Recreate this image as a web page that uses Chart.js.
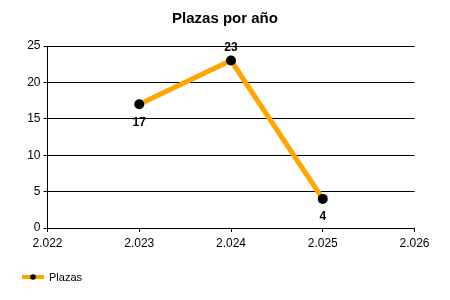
<!DOCTYPE html>
<html>
<head>
<meta charset="utf-8">
<script src="https://cdn.jsdelivr.net/npm/chart.js@4"></script>
<style>
  html, body { margin: 0; padding: 0; background: #fff; }
  #chart { display: block; }
</style>
</head>
<body>
<canvas id="chart" width="450" height="300"></canvas>
<script>
const years = [2023, 2024, 2025];
const plazas = [17, 23, 4];
const labelSide = ['below', 'above', 'below'];
const xTicks = [2022, 2023, 2024, 2025, 2026];
const xTickLabels = ['2.022', '2.023', '2.024', '2.025', '2.026'];
const yTicks = [0, 5, 10, 15, 20, 25];

const FONT = '"Liberation Sans", Arial, sans-serif';

// data labels, title and legend drawn by hand
const extras = {
    id: 'extras',
    afterDatasetsDraw(chart) {
        const ctx = chart.ctx;
        const meta = chart.getDatasetMeta(0);
        ctx.save();
        ctx.font = 'bold 12px ' + FONT;
        ctx.fillStyle = '#000';
        ctx.textAlign = 'center';
        ctx.textBaseline = 'middle';
        meta.data.forEach(function (pt, i) {
            const dy = labelSide[i] === 'above' ? -13 : 18;
            ctx.fillText(String(plazas[i]), pt.x, pt.y + dy);
        });

        // title
        ctx.font = 'bold 15px ' + FONT;
        ctx.fillText('Plazas por año', 225, 19);

        // legend
        ctx.strokeStyle = '#FFA500';
        ctx.lineWidth = 4;
        ctx.beginPath();
        ctx.moveTo(22, 277);
        ctx.lineTo(44, 277);
        ctx.stroke();
        ctx.beginPath();
        ctx.arc(33, 277, 2.8, 0, Math.PI * 2);
        ctx.fill();
        ctx.font = '11px ' + FONT;
        ctx.textAlign = 'left';
        ctx.fillText('Plazas', 49, 278);
        ctx.restore();
    }
};

new Chart(document.getElementById('chart'), {
    type: 'line',
    data: {
        datasets: [{
            label: 'Plazas',
            data: years.map((y, i) => ({ x: y, y: plazas[i] })),
            borderColor: '#FFA500',
            borderWidth: 5,
            pointRadius: 5,
            pointBackgroundColor: '#000',
            pointBorderColor: '#000',
            pointBorderWidth: 0,
            tension: 0
        }]
    },
    options: {
        responsive: false,
        animation: false,
        layout: { padding: { top: 46, right: 35.5, bottom: 0, left: 0 } },
        plugins: {
            legend: { display: false },
            title: { display: false },
            tooltip: { enabled: false }
        },
        scales: {
            x: {
                type: 'linear',
                min: 2022,
                max: 2026,
                afterBuildTicks(scale) { scale.ticks = xTicks.map(v => ({ value: v })); },
                afterFit(scale) { scale.height = 72; },
                ticks: {
                    color: '#000',
                    font: { family: FONT, size: 12 },
                    padding: 4,
                    maxRotation: 0,
                    callback: function (v) { return xTickLabels[xTicks.indexOf(v)]; }
                },
                grid: { drawOnChartArea: false, drawTicks: true, tickLength: 4, color: '#000', lineWidth: 1 },
                border: { color: '#000', width: 1 }
            },
            y: {
                min: 0,
                max: 25,
                afterBuildTicks(scale) { scale.ticks = yTicks.map(v => ({ value: v })); },
                afterFit(scale) { scale.width = 47.5; },
                ticks: {
                    color: '#000',
                    font: { family: FONT, size: 12 },
                    padding: 3
                },
                grid: { color: '#000', lineWidth: 1, tickLength: 4 },
                border: { color: '#000', width: 1 }
            }
        }
    },
    plugins: [extras]
});
</script>
</body>
</html>
